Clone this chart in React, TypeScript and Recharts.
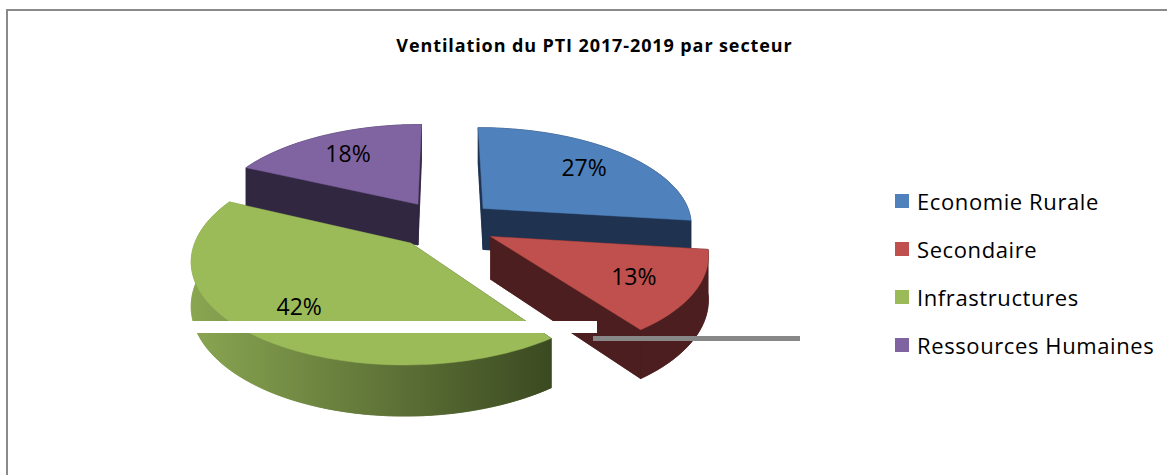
import React from 'react';
import { PieChart, Pie, Cell, Legend } from 'recharts';

const categories = ['Economie Rurale', 'Secondaire', 'Infrastructures', 'Ressources Humaines'];
const shares = [27, 13, 42, 18];
const percentLabels = ['27%', '13%', '42%', '18%'];
const topColors = ['#4f81bd', '#c0504d', '#9bbb59', '#8064a2'];
const sideColors = ['#1f3350', '#4d1e1f', 'url(#greenSide)', '#312740'];

const data = categories.map((name, i) => ({ name, value: shares[i] }));

// 3D look: tilt, perspective, explosion and depth of the pie
const TILT = 0.463;
const PERSPECTIVE = 0.15;
const EXPLODE = 52;
const DEPTH = 42;
const LABEL_RATIO = 0.72;
const FONT = '"Open Sans", Lato, sans-serif';

type P = [number, number];

function project(cx: number, cy: number, R: number, u: number, v: number, z: number): P {
  const s = 1 / (1 + (PERSPECTIVE * v) / R);
  return [cx + u * s, cy - v * TILT * s + z * s];
}

function geometry(p: any, z: number) {
  const { cx, cy, outerRadius: R, startAngle, endAngle } = p;
  const mid = (startAngle + endAngle) / 2;
  const m = (mid * Math.PI) / 180;
  const ou = EXPLODE * Math.cos(m);
  const ov = EXPLODE * Math.sin(m);
  const apex = project(cx, cy, R, ou, ov, z);
  const arc: P[] = [];
  const steps = Math.max(2, Math.ceil(Math.abs(endAngle - startAngle) / 2));
  for (let i = 0; i <= steps; i++) {
    const a = ((startAngle + ((endAngle - startAngle) * i) / steps) * Math.PI) / 180;
    arc.push(project(cx, cy, R, ou + R * Math.cos(a), ov + R * Math.sin(a), z));
  }
  const lr = R * LABEL_RATIO;
  const label = project(cx, cy, R, ou + lr * Math.cos(m), ov + lr * Math.sin(m), 0);
  return { apex, arc, label };
}

const str = (pts: P[]) => pts.map(([x, y]) => `${x.toFixed(2)},${y.toFixed(2)}`).join(' ');

const SideFace = (props: any) => {
  const top = geometry(props, 0);
  const bot = geometry(props, DEPTH);
  const fill = sideColors[props.index];
  const n = top.arc.length - 1;
  const polys: P[][] = [
    [bot.apex, ...bot.arc],
    [top.apex, top.arc[0], bot.arc[0], bot.apex],
    [top.apex, top.arc[n], bot.arc[n], bot.apex],
    [...top.arc, ...[...bot.arc].reverse()],
  ];
  return (
    <g>
      {polys.map((pp, i) => (
        <polygon key={i} points={str(pp)} fill={fill} stroke={fill} strokeWidth={0.6} />
      ))}
    </g>
  );
};

const TopFace = (props: any) => {
  const { apex, arc, label } = geometry(props, 0);
  const i = props.index;
  return (
    <g>
      <polygon points={str([apex, ...arc])} fill={topColors[i]} stroke={topColors[i]} strokeWidth={0.5} />
      <text x={label[0]} y={label[1]} textAnchor="middle" dominantBaseline="central" fontSize={23} fontFamily={FONT} fill="#000">
        {percentLabels[i]}
      </text>
    </g>
  );
};

const LegendContent = () => (
  <div style={{ fontFamily: FONT, fontSize: 22, letterSpacing: 0.6, color: '#000' }}>
    {categories.map((name, i) => (
      <div key={name} style={{ display: 'flex', alignItems: 'center', height: 48, whiteSpace: 'nowrap' }}>
        <span style={{ display: 'inline-block', width: 14, height: 14, background: topColors[i], marginRight: 8, flexShrink: 0 }} />
        <span>{name}</span>
      </div>
    ))}
  </div>
);

export default function App() {
  return (
    <div style={{ position: 'absolute', left: 0, top: 0, width: 1167, height: 475, overflow: 'hidden', background: '#fff' }}>
      <div style={{ position: 'absolute', left: 6, top: 9, width: 1161, height: 466, borderLeft: '2px solid #8a8a8a', borderTop: '2px solid #8a8a8a', boxSizing: 'border-box' }} />
      <div style={{ position: 'absolute', left: 21, top: 33, width: 1147, textAlign: 'center', fontFamily: FONT, fontWeight: 700, fontSize: 18, letterSpacing: 0.9, color: '#000', whiteSpace: 'nowrap' }}>
        Ventilation du PTI 2017-2019 par secteur
      </div>
      <div style={{ position: 'absolute', left: 0, top: 0 }}>
        <PieChart width={1167} height={475} margin={{ top: 0, right: 0, bottom: 0, left: 0 }}>
          <defs>
            <linearGradient id="greenSide" x1="190" y1="0" x2="550" y2="0" gradientUnits="userSpaceOnUse">
              <stop offset="0" stopColor="#8aa652" />
              <stop offset="1" stopColor="#3b4a21" />
            </linearGradient>
          </defs>
          <Pie
            data={data}
            dataKey="value"
            nameKey="name"
            cx={445}
            cy={224}
            outerRadius={210}
            startAngle={90}
            endAngle={-270}
            isAnimationActive={false}
            labelLine={false}
            label={SideFace}
            legendType="none"
            stroke="none"
          >
            {data.map((d, i) => (
              <Cell key={d.name} fill={topColors[i]} fillOpacity={0} stroke="none" />
            ))}
          </Pie>
          <Pie
            data={data}
            dataKey="value"
            nameKey="name"
            cx={445}
            cy={224}
            outerRadius={210}
            startAngle={90}
            endAngle={-270}
            isAnimationActive={false}
            labelLine={false}
            label={TopFace}
            legendType="square"
            stroke="none"
          >
            {data.map((d, i) => (
              <Cell key={d.name} fill={topColors[i]} fillOpacity={0} stroke="none" />
            ))}
          </Pie>
          <Legend
            layout="vertical"
            align="right"
            verticalAlign="top"
            content={LegendContent}
            wrapperStyle={{ left: 895, top: 177, width: 272 }}
          />
        </PieChart>
      </div>
      <div style={{ position: 'absolute', left: 165, top: 321, width: 432, height: 12, background: '#fff' }} />
      <div style={{ position: 'absolute', left: 593, top: 336, width: 207, height: 5, background: '#878787' }} />
    </div>
  );
}
